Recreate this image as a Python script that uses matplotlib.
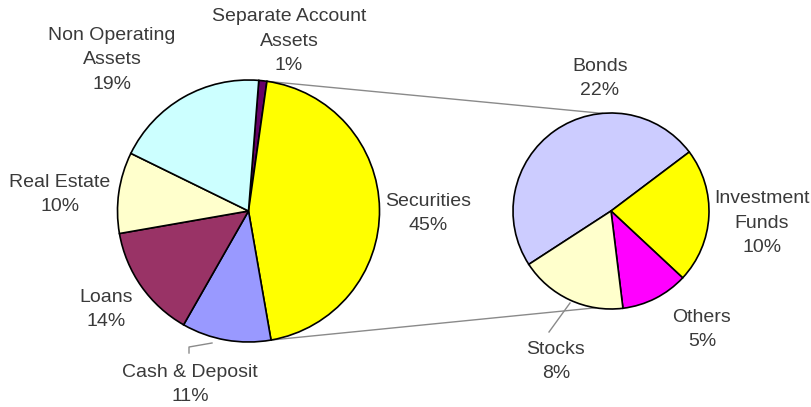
import numpy as np
import matplotlib
matplotlib.use("Agg")
import matplotlib.pyplot as plt

# ---- data ----
main_labels = ["Separate Account\nAssets", "Securities", "Cash & Deposit",
               "Loans", "Real Estate", "Non Operating\nAssets"]
main_values = [1, 45, 11, 14, 10, 19]
main_colors = ["#660066", "#FFFF00", "#9999FF", "#993366", "#FFFFCC", "#CCFFFF"]

sub_labels = ["Bonds", "Investment\nFunds", "Others", "Stocks"]
sub_values = [22, 10, 5, 8]
sub_colors = ["#CCCCFF", "#FFFF00", "#FF00FF", "#FFFFCC"]

plt.rcParams['font.family'] = ['Liberation Sans', 'DejaVu Sans']

W, H = 812, 407
fig = plt.figure(figsize=(W / 100, H / 100), dpi=100)
ax = fig.add_axes([0, 0, 1, 1])

def P(x, y):
    """pixel (top-left origin) -> data coords"""
    return x, H - y

c1 = P(248.5, 211)
r1 = 131
c2 = P(611, 211)
r2 = 98

wp = dict(edgecolor="black", linewidth=1.2)
w1, _ = ax.pie(main_values, colors=main_colors, startangle=85.5, counterclock=False,
               center=c1, radius=r1, wedgeprops=wp, frame=True)
w2, _ = ax.pie(sub_values, colors=sub_colors, startangle=213, counterclock=False,
               center=c2, radius=r2, wedgeprops=wp, frame=True)

# connection lines from the Securities wedge to the secondary pie
sec = w1[1]
lc = "#8a8a8a"
for ang1, ang2 in [(sec.theta2, 95), (sec.theta1, -99)]:
    x1 = c1[0] + r1 * np.cos(np.radians(ang1))
    y1 = c1[1] + r1 * np.sin(np.radians(ang1))
    x2 = c2[0] + r2 * np.cos(np.radians(ang2))
    y2 = c2[1] + r2 * np.sin(np.radians(ang2))
    ax.plot([x1, x2], [y1, y2], color=lc, lw=1.0, zorder=0.5)

# leader lines
ax.plot(*zip(P(189, 353), P(189, 347), P(212, 343)), color=lc, lw=1.0)
ax.plot(*zip(P(549, 332), P(570, 303)), color=lc, lw=1.0)

tc = "#3a3a3a"
fs = 14
ls = 1.55
main_pos = [P(289, 41), P(428, 213.5), P(190, 384.5), P(106, 309.5),
            P(60, 194.5), P(112, 60)]
for lab, val, pos in zip(main_labels, main_values, main_pos):
    ax.text(*pos, f"{lab}\n{val}%", ha="center", va="center", fontsize=fs,
            color=tc, linespacing=ls)

sub_pos = [P(600, 78.5), P(762, 223), P(702, 329.5), P(556, 361.5)]
for lab, val, pos in zip(sub_labels, sub_values, sub_pos):
    ax.text(*pos, f"{lab}\n{val}%", ha="center", va="center", fontsize=fs,
            color=tc, linespacing=ls)

ax.set_xlim(0, W)
ax.set_ylim(0, H)
ax.set_aspect("auto")
ax.axis("off")

fig.savefig("out.png", dpi=100)
